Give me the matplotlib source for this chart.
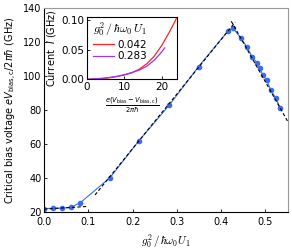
import matplotlib.pyplot as plt
import numpy as np

plt.rcParams['font.family'] = ['DejaVu Sans']
plt.rcParams['font.size'] = 7

# measured critical bias voltage vs coupling
g_ratio = [0.0, 0.021, 0.040, 0.060, 0.081, 0.149, 0.214, 0.283, 0.349, 0.416, 0.427,
           0.444, 0.458, 0.470, 0.482, 0.488, 0.494, 0.503, 0.512, 0.524, 0.533]
v_crit = [22.0, 22.2, 22.3, 22.7, 25.3, 40.2, 61.8, 82.9, 105.5, 126.6, 128.1,
          122.5, 117.2, 111.4, 107.5, 104.5, 100.6, 97.6, 91.8, 86.9, 81.4]

# linear fits (dashed)
fit_low_x = [0.0, 0.1]
fit_low_y = [21.7, 23.3]
fit_rise_x = [0.115, 0.432]
fit_rise_y = [30.0, 131.7]
fit_fall_x = [0.423, 0.552]
fit_fall_y = [132.2, 72.6]

# inset: current vs bias offset
v_inset = [0, 2, 4, 6, 8, 10, 12, 14, 16, 18, 20, 22, 23.9]
cur_042 = [0, 0.0003, 0.001, 0.0025, 0.0045, 0.0072, 0.011, 0.017, 0.026, 0.039, 0.057, 0.079, 0.102]
v_inset_b = [0, 2, 4, 6, 8, 10, 12, 14, 16, 18, 20, 20.8]
cur_283 = [0, 0.0006, 0.0016, 0.003, 0.005, 0.0078, 0.0112, 0.0155, 0.022, 0.032, 0.046, 0.053]

fig = plt.figure(figsize=(2.92, 2.5), dpi=100)
ax = fig.add_axes([0.151, 0.152, 0.835, 0.816])

ax.plot(g_ratio, v_crit, '-o', color='#3d6cf0', lw=0.8, ms=3.0)
for fx, fy in [(fit_low_x, fit_low_y), (fit_rise_x, fit_rise_y), (fit_fall_x, fit_fall_y)]:
    ax.plot(fx, fy, '--', color='black', lw=0.8, dashes=(3, 2))

ax.set_xlim(0, 0.551)
ax.set_ylim(20, 140)
ax.set_xticks([0.0, 0.1, 0.2, 0.3, 0.4, 0.5])
ax.set_yticks([20, 40, 60, 80, 100, 120, 140])
ax.tick_params(direction='in', length=2, width=0.6, pad=2)
ax.tick_params(axis='x', pad=3.5)
for s in ['top', 'right']:
    ax.spines[s].set_color('#999999')
for s in ax.spines.values():
    s.set_linewidth(0.8)
ax.set_xlabel(r'$g_0^2\,/\,\hbar\omega_0 U_1$', math_fontfamily='cm', fontsize=8, labelpad=4)
ax.set_ylabel(r'Critical bias voltage $eV_{\mathrm{bias,c}}/2\pi\hbar$ (GHz)', labelpad=3)

ins = fig.add_axes([0.298, 0.683, 0.307, 0.249])
ins.plot(v_inset, cur_042, color='#ff2222', lw=0.9, label='0.042')
ins.plot(v_inset_b, cur_283, color='#9933ff', lw=0.9, label='0.283')
ins.set_xlim(0, 24)
ins.set_ylim(0, 0.105)
ins.set_xticks([0, 10, 20])
ins.set_yticks([0.0, 0.05, 0.10])
ins.set_yticklabels(['0.00', '0.05', '0.10'])
ins.tick_params(direction='in', length=2, width=0.6, pad=2, labelsize=7.5)
for s in ins.spines.values():
    s.set_linewidth(0.8)
ins.set_ylabel('Current  $I$ (GHz)', labelpad=2)
ins.set_xlabel(r'$\frac{e(V_{\mathrm{bias}}-V_{\mathrm{bias,c}})}{2\pi\hbar}$', labelpad=2, fontsize=7)
leg = ins.legend(title=r'$g_0^2\,/\,\hbar\omega_0\,U_1$', frameon=False, loc='upper left',
                 bbox_to_anchor=(0.0, 1.05), handlelength=2.0, handletextpad=0.3,
                 borderaxespad=0.2, labelspacing=0.15, fontsize=7.5)
leg.get_title().set_fontsize(8.5)
leg.get_title().set_math_fontfamily('cm')

fig.savefig('out.png', dpi=100)
